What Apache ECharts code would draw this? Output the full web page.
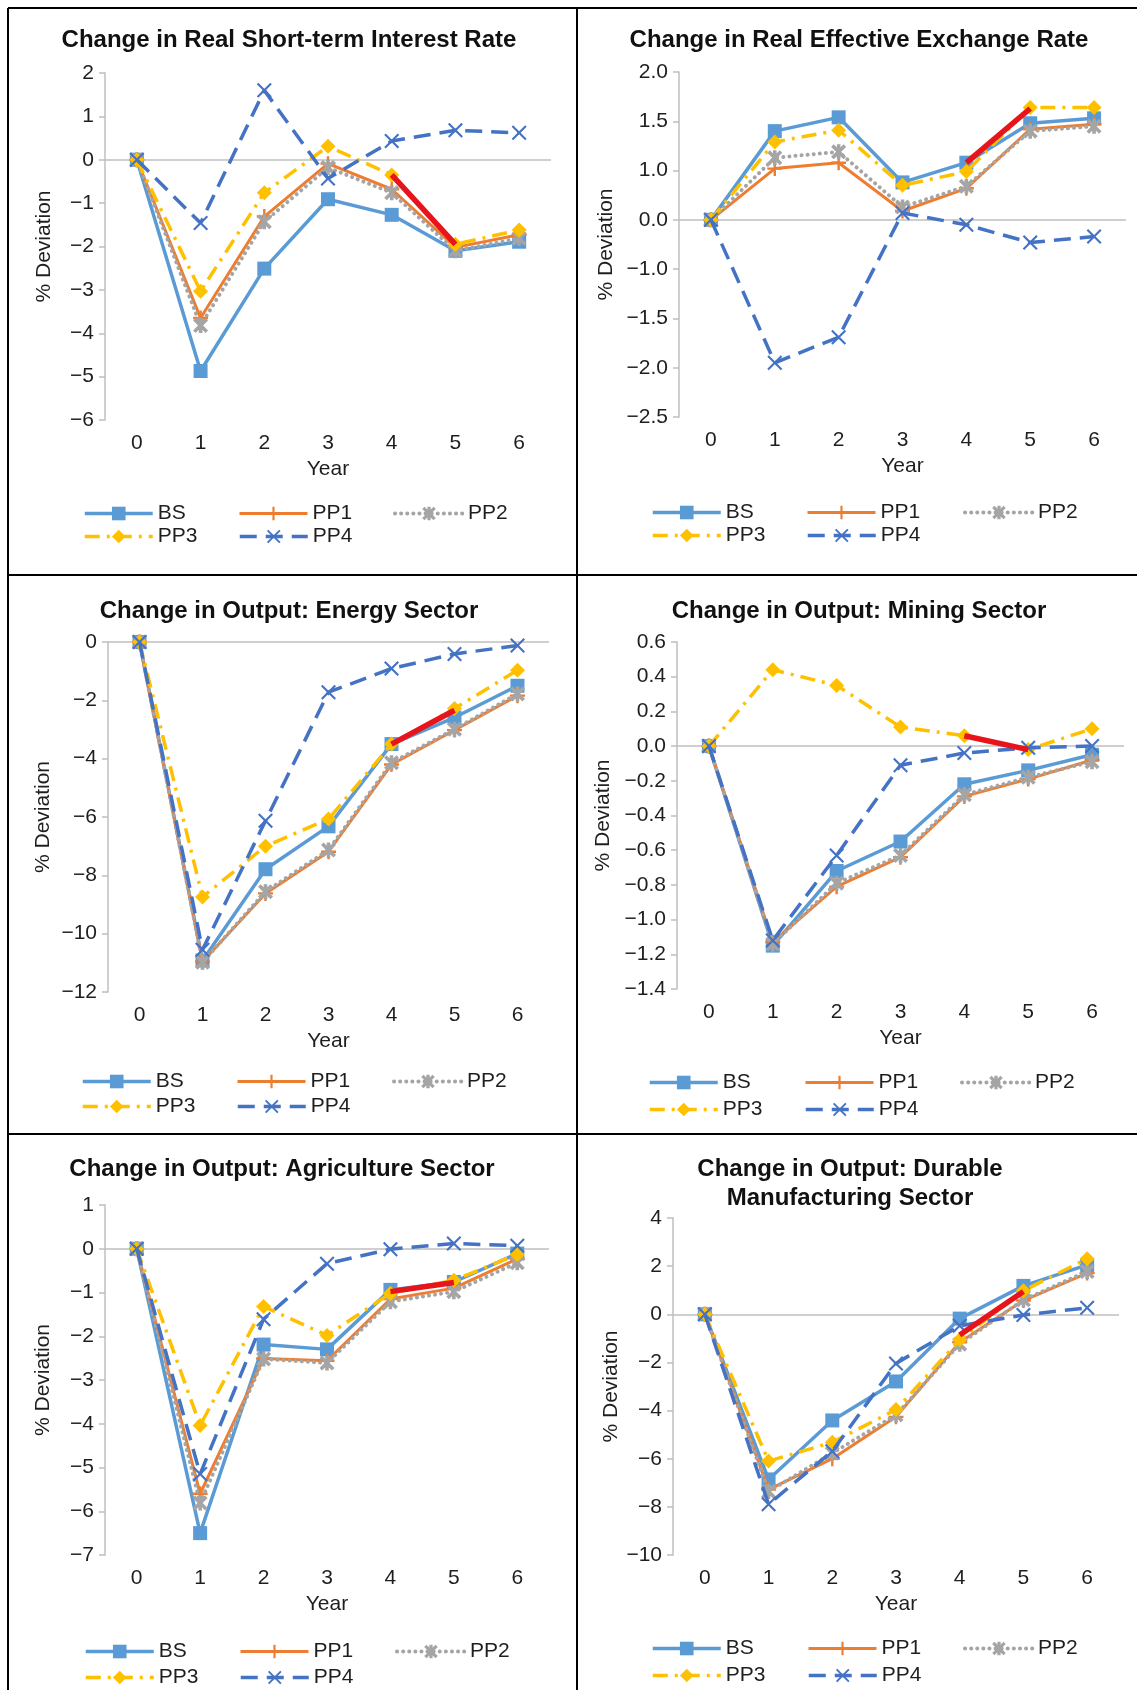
<!DOCTYPE html>
<html>
<head>
<meta charset="utf-8">
<script src="https://cdn.jsdelivr.net/npm/echarts@6/dist/echarts.min.js"></script>
<style>
html, body { margin: 0; padding: 0; background: #fff; }
#main { width: 1137px; height: 1690px; }
</style>
</head>
<body>
<div id="main"></div>
<script>
// x categories and series names
var years = ['0', '1', '2', '3', '4', '5', '6'];
var seriesNames = ['BS', 'PP1', 'PP2', 'PP3', 'PP4'];

// Change in Real Short-term Interest Rate
var rateBS  = [0, -4.87, -2.51, -0.91, -1.27, -2.10, -1.89];
var ratePP1 = [0, -3.65, -1.31, -0.09, -0.68, -2.02, -1.73];
var ratePP2 = [0, -3.82, -1.43, -0.18, -0.76, -2.10, -1.81];
var ratePP3 = [0, -3.03, -0.76, 0.31, -0.35, -1.95, -1.62];
var ratePP4 = [0, -1.46, 1.60, -0.43, 0.43, 0.68, 0.62];
var rateHL  = [null, null, null, null, -0.35, -1.95, null];
var rateTicks = ['−6', '−5', '−4', '−3', '−2', '−1', '0', '1', '2'];

// Change in Real Effective Exchange Rate
var exchBS  = [0, 0.90, 1.04, 0.38, 0.58, 0.98, 1.03];
var exchPP1 = [0, 0.52, 0.58, 0.09, 0.32, 0.92, 0.97];
var exchPP2 = [0, 0.63, 0.69, 0.13, 0.34, 0.90, 0.95];
var exchPP3 = [0, 0.79, 0.91, 0.35, 0.49, 1.14, 1.14];
var exchPP4 = [0, -1.45, -1.19, 0.07, -0.05, -0.23, -0.17];
var exchHL  = [null, null, null, null, 0.58, 1.13, null];
var exchTicks = ['−2.5', '−2.0', '−1.5', '−1.0', '0.0', '1.0', '1.5', '2.0'];

// Change in Output: Energy Sector
var energyBS  = [0, -10.92, -7.79, -6.32, -3.50, -2.59, -1.50];
var energyPP1 = [0, -10.96, -8.62, -7.19, -4.20, -3.02, -1.84];
var energyPP2 = [0, -10.98, -8.56, -7.13, -4.14, -2.99, -1.78];
var energyPP3 = [0, -8.74, -7.00, -6.07, -3.50, -2.28, -0.97];
var energyPP4 = [0, -10.55, -6.13, -1.72, -0.91, -0.41, -0.12];
var energyHL  = [null, null, null, null, -3.50, -2.34, null];
var energyTicks = ['−12', '−10', '−8', '−6', '−4', '−2', '0'];

// Change in Output: Mining Sector
var miningBS  = [0, -1.15, -0.72, -0.55, -0.22, -0.14, -0.05];
var miningPP1 = [0, -1.13, -0.81, -0.64, -0.29, -0.19, -0.08];
var miningPP2 = [0, -1.14, -0.79, -0.63, -0.28, -0.18, -0.09];
var miningPP3 = [0, 0.44, 0.35, 0.11, 0.06, -0.02, 0.10];
var miningPP4 = [0, -1.12, -0.63, -0.11, -0.04, -0.01, 0.00];
var miningHL  = [null, null, null, null, 0.06, -0.02, null];
var miningTicks = ['−1.4', '−1.2', '−1.0', '−0.8', '−0.6', '−0.4', '−0.2', '0.0', '0.2', '0.4', '0.6'];

// Change in Output: Agriculture Sector
var agriBS  = [0, -6.50, -2.19, -2.30, -0.94, -0.76, -0.11];
var agriPP1 = [0, -5.60, -2.51, -2.56, -1.15, -0.90, -0.23];
var agriPP2 = [0, -5.81, -2.52, -2.61, -1.21, -0.98, -0.32];
var agriPP3 = [0, -4.04, -1.32, -1.98, -1.02, -0.72, -0.13];
var agriPP4 = [0, -5.15, -1.61, -0.34, -0.01, 0.12, 0.07];
var agriHL  = [null, null, null, null, -0.98, -0.77, null];
var agriTicks = ['−7', '−6', '−5', '−4', '−3', '−2', '−1', '0', '1'];

// Change in Output: Durable Manufacturing Sector
var durBS  = [0, -6.86, -4.41, -2.79, -0.18, 1.18, 2.05];
var durPP1 = [0, -7.28, -6.00, -4.26, -1.16, 0.57, 1.71];
var durPP2 = [0, -7.36, -5.77, -4.18, -1.24, 0.60, 1.78];
var durPP3 = [0, -6.10, -5.32, -3.96, -1.06, 0.98, 2.31];
var durPP4 = [0, -7.89, -5.69, -2.04, -0.48, -0.03, 0.27];
var durHL  = [null, null, null, null, -0.86, 0.95, null];
var durTicks = ['−10', '−8', '−6', '−4', '−2', '0', '2', '4'];

var FONT = "'Liberation Sans', Arial, sans-serif";
var TEXT = '#1e1e1e';
var AXIS = '#BFBFBF';
var FS = 21;

var plusPath = 'path://M4.2,0L5.8,0L5.8,4.2L10,4.2L10,5.8L5.8,5.8L5.8,10L4.2,10L4.2,5.8L0,5.8L0,4.2L4.2,4.2Z';
var crossPath = 'path://M0,1L1,0L5,4L9,0L10,1L6,5L10,9L9,10L5,6L1,10L0,9L4,5Z';
var starPath = 'path://M3.8,0L6.2,0L6.2,10L3.8,10Z M0,1.7L1.7,0L5,3.3L8.3,0L10,1.7L6.7,5L10,8.3L8.3,10L5,6.7L1.7,10L0,8.3L3.3,5Z';

var styles = {
    BS:  { color: '#5B9BD5', width: 3.5, type: 'solid',       symbol: 'rect',    size: 14 },
    PP1: { color: '#ED7D31', width: 3,   type: 'solid',       symbol: plusPath,  size: 15 },
    PP2: { color: '#A5A5A5', width: 4,   type: [0.1, 6],      symbol: starPath,  size: 15, cap: 'round' },
    PP3: { color: '#FFC000', width: 3.5, type: [15, 7, 3, 7], symbol: 'diamond', size: 15 },
    PP4: { color: '#4472C4', width: 3.5, type: [17, 9],       symbol: crossPath, size: 15 }
};

var panels = [
    { title: 'Change in Real Short-term Interest Rate', tx: 289, ty: 40,
      grid: [105, 73, 446, 347], min: -6, max: 2, interval: 1, ticks: rateTicks, yGap: 50,
      data: [rateBS, ratePP1, ratePP2, ratePP3, ratePP4], hl: rateHL,
      legRows: [503, 526], legCols: [83, 238, 393] },
    { title: 'Change in Real Effective Exchange Rate', tx: 859, ty: 40,
      grid: [679, 72, 447, 345], min: -2, max: 1.5, interval: 0.5, ticks: exchTicks, yGap: 62,
      data: [exchBS, exchPP1, exchPP2, exchPP3, exchPP4], hl: exchHL,
      legRows: [502, 525], legCols: [651, 806, 963] },
    { title: 'Change in Output: Energy Sector', tx: 289, ty: 611,
      grid: [108, 642, 441, 350], min: -12, max: 0, interval: 2, ticks: energyTicks, yGap: 54,
      data: [energyBS, energyPP1, energyPP2, energyPP3, energyPP4], hl: energyHL,
      legRows: [1071, 1096], legCols: [81, 236, 392] },
    { title: 'Change in Output: Mining Sector', tx: 859, ty: 611,
      grid: [677, 642, 447, 347], min: -1.4, max: 0.6, interval: 0.2, ticks: miningTicks, yGap: 63,
      data: [miningBS, miningPP1, miningPP2, miningPP3, miningPP4], hl: miningHL,
      legRows: [1072, 1099], legCols: [648, 804, 960] },
    { title: 'Change in Output: Agriculture Sector', tx: 282, ty: 1169,
      grid: [105, 1205, 444, 350], min: -7, max: 1, interval: 1, ticks: agriTicks, yGap: 51,
      data: [agriBS, agriPP1, agriPP2, agriPP3, agriPP4], hl: agriHL,
      legRows: [1641, 1667], legCols: [84, 239, 395] },
    { title: 'Change in Output: Durable\nManufacturing Sector', tx: 850, ty: 1184,
      grid: [673, 1218, 446, 337], min: -10, max: 4, interval: 2, ticks: durTicks, yGap: 51,
      data: [durBS, durPP1, durPP2, durPP3, durPP4], hl: durHL,
      legRows: [1638, 1665], legCols: [651, 807, 963] }
];

var grids = [], xAxes = [], yAxes = [], series = [], legends = [], graphics = [];

panels.forEach(function (p, i) {
    grids.push({ left: p.grid[0], top: p.grid[1], width: p.grid[2], height: p.grid[3] });

    xAxes.push({
        type: 'category', gridIndex: i, data: years, boundaryGap: true,
        axisLine: { show: false }, axisTick: { show: false },
        axisLabel: { fontSize: FS, color: TEXT, fontFamily: FONT, margin: 13 },
        name: 'Year', nameLocation: 'middle', nameGap: 39,
        nameTextStyle: { fontSize: FS, color: TEXT, fontFamily: FONT }
    });

    yAxes.push({
        type: 'value', gridIndex: i, min: p.min, max: p.max, interval: p.interval,
        axisLine: { show: true, lineStyle: { color: AXIS, width: 1.5 } },
        axisTick: { show: true, length: 6, lineStyle: { color: AXIS, width: 1.5 } },
        splitLine: { show: false },
        axisLabel: {
            fontSize: FS, color: TEXT, fontFamily: FONT, margin: 11,
            formatter: function (v) {
                return p.ticks[Math.round((v - p.min) / p.interval)];
            }
        },
        name: '% Deviation', nameLocation: 'middle', nameGap: p.yGap, nameRotate: 90,
        nameTextStyle: { fontSize: FS, color: TEXT, fontFamily: FONT }
    });

    seriesNames.forEach(function (name, k) {
        var s = styles[name];
        var opt = {
            name: name, type: 'line', xAxisIndex: i, yAxisIndex: i,
            data: p.data[k],
            symbol: s.symbol, symbolSize: s.size, showSymbol: true,
            lineStyle: { color: s.color, width: s.width, type: s.type, cap: s.cap || 'butt' },
            itemStyle: { color: s.color },
            emphasis: { disabled: true },
            z: 2 + k
        };
        if (k === 0) {
            opt.markLine = {
                silent: true, symbol: 'none', label: { show: false },
                lineStyle: { color: AXIS, width: 1.5, type: 'solid' },
                data: [{ yAxis: 0 }],
                z: 1
            };
        }
        series.push(opt);
    });

    series.push({
        name: 'highlight', type: 'line', xAxisIndex: i, yAxisIndex: i,
        data: p.hl, showSymbol: false, symbol: 'none',
        lineStyle: { color: '#E8141B', width: 5.5 },
        emphasis: { disabled: true },
        z: 10
    });

    var order = [['BS', 'PP1', 'PP2'], ['PP3', 'PP4']];
    order.forEach(function (row, r) {
        row.forEach(function (name, c) {
            legends.push({
                data: [name], left: p.legCols[c], top: p.legRows[r],
                padding: 0, itemWidth: 68, itemHeight: 17, selectedMode: false,
                lineStyle: { width: 'inherit' },
                textStyle: { fontSize: FS, color: TEXT, fontFamily: FONT }
            });
        });
    });

    graphics.push({
        type: 'text',
        style: {
            text: p.title, x: p.tx, y: p.ty, align: 'center', verticalAlign: 'middle',
            font: 'bold 24px ' + FONT, fill: '#111111', lineHeight: 29
        }
    });
});

// panel borders
[[8, 8, 1137, 8], [8, 8, 8, 1690], [577, 8, 577, 1690], [8, 575, 1137, 575], [8, 1134, 1137, 1134]]
    .forEach(function (l) {
        graphics.push({
            type: 'line', shape: { x1: l[0], y1: l[1], x2: l[2], y2: l[3] },
            style: { stroke: '#000000', lineWidth: 2 }
        });
    });

var chart = echarts.init(document.getElementById('main'));
chart.setOption({
    backgroundColor: '#ffffff',
    animation: false,
    grid: grids,
    xAxis: xAxes,
    yAxis: yAxes,
    legend: legends,
    series: series,
    graphic: graphics
});
</script>
</body>
</html>
